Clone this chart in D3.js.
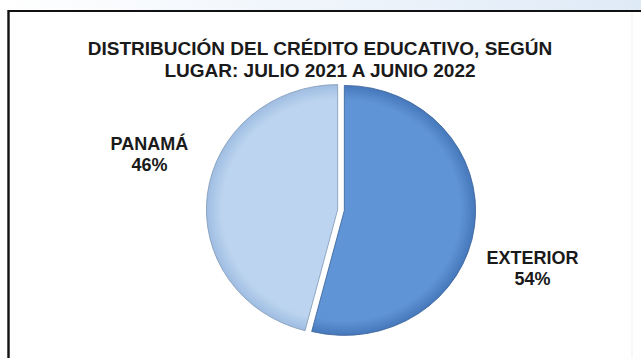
<!DOCTYPE html>
<html>
<head>
<meta charset="utf-8">
<script src="https://cdn.jsdelivr.net/npm/d3@7"></script>
<style>
  body { margin: 0; background: #fff; }
  svg { display: block; }
  text { font-family: "Liberation Sans", Arial, sans-serif; font-weight: bold; fill: #1a1a1a; }
</style>
</head>
<body>
<svg width="641" height="358"></svg>
<script>
// data
var categories = ["EXTERIOR", "PANAMÁ"];
var values = [54, 46];
var titleLines = ["DISTRIBUCIÓN DEL CRÉDITO EDUCATIVO, SEGÚN", "LUGAR: JULIO 2021 A JUNIO 2022"];

var svg = d3.select("svg"),
    width = +svg.attr("width"),
    height = +svg.attr("height");

var defs = svg.append("defs");

// top band
var band = defs.append("linearGradient").attr("id", "band");
band.append("stop").attr("offset", "0%").attr("stop-color", "#ffffff");
band.append("stop").attr("offset", "100%").attr("stop-color", "#dfeaf7");
svg.append("rect").attr("x", 0).attr("y", 0).attr("width", width).attr("height", 10)
    .attr("fill", "url(#band)");

// frame
svg.append("line").attr("x1", 8).attr("x2", width).attr("y1", 11).attr("y2", 11)
    .attr("stroke", "#111").attr("stroke-width", 2.2);
svg.append("line").attr("x1", 8.5).attr("x2", 8.5).attr("y1", 10).attr("y2", height)
    .attr("stroke", "#111").attr("stroke-width", 2.4);
svg.append("line").attr("x1", 632).attr("x2", 632).attr("y1", 12).attr("y2", height)
    .attr("stroke", "#eef1f4").attr("stroke-width", 1);

// title
svg.append("text")
    .attr("x", 320)
    .attr("y", 55)
    .attr("text-anchor", "middle")
    .style("font-size", "19px")
  .selectAll("tspan")
  .data(titleLines)
  .enter().append("tspan")
    .attr("x", 320)
    .attr("dy", function(d, i) { return i ? 21.5 : 0; })
    .text(function(d) { return d; });

// slice gradients
var colors = d3.scaleOrdinal()
    .domain(categories)
    .range([["#5f95d6", "#4678bb"], ["#bcd4ef", "#9fbde2"]]);

categories.forEach(function(c, i) {
  var gr = defs.append("radialGradient").attr("id", "slice" + i)
      .attr("gradientUnits", "userSpaceOnUse")
      .attr("cx", 0).attr("cy", 0).attr("r", 125);
  gr.append("stop").attr("offset", "0%").attr("stop-color", colors(c)[0]);
  gr.append("stop").attr("offset", "88%").attr("stop-color", colors(c)[0]);
  gr.append("stop").attr("offset", "100%").attr("stop-color", colors(c)[1]);
});

var radius = 125,
    explode = 3.2;

var pie = d3.pie().sort(null).value(function(d) { return d.value; });
var arcs = pie(categories.map(function(c, i) { return {name: c, value: values[i]}; }));

var arc = d3.arc().innerRadius(0).outerRadius(radius);

var g = svg.append("g")
    .attr("transform", "translate(341,210) scale(1.05,1)");

g.selectAll("path")
  .data(arcs)
  .enter().append("path")
    .attr("d", arc)
    .attr("transform", function(d) {
      var a = (d.startAngle + d.endAngle) / 2;
      return "translate(" + (Math.sin(a) * explode) + "," + (-Math.cos(a) * explode) + ")";
    })
    .attr("fill", function(d, i) { return "url(#slice" + i + ")"; })
    .attr("stroke", function(d) { return d3.color(colors(d.data.name)[1]).darker(0.6); })
    .attr("stroke-width", 0.8);

// labels
var labelRadius = 200,
    labelShift = 9.5 * Math.PI / 180;

var labels = svg.append("g").attr("transform", "translate(341,210)");

labels.selectAll("text")
  .data(arcs)
  .enter().append("text")
    .attr("text-anchor", "middle")
    .style("font-size", "18px")
    .attr("transform", function(d) {
      var a = (d.startAngle + d.endAngle) / 2 + labelShift;
      return "translate(" + (Math.sin(a) * labelRadius) + "," + (-Math.cos(a) * labelRadius) + ")";
    })
    .each(function(d) {
      var t = d3.select(this);
      t.append("tspan").attr("x", 0).attr("y", -3).text(d.data.name);
      t.append("tspan").attr("x", 0).attr("y", 18).text(d.data.value + "%");
    });
</script>
</body>
</html>
